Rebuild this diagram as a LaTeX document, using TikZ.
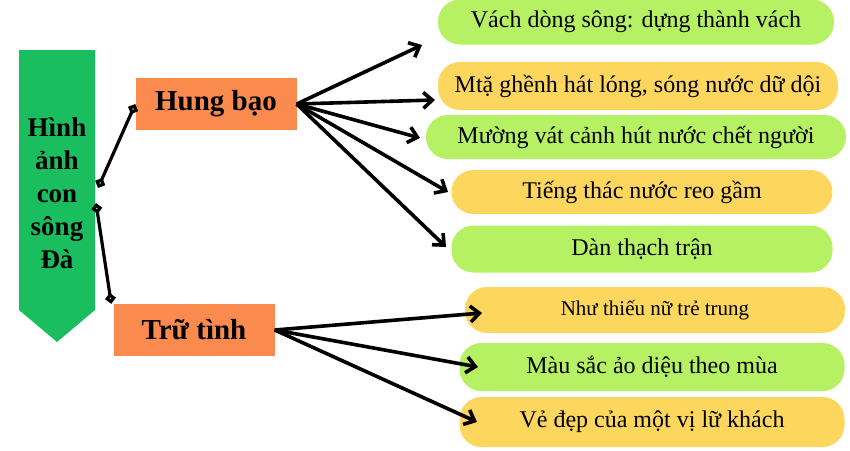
\documentclass[tikz,border=0pt]{standalone}
\usepackage{fontspec}
\setmainfont{Liberation Serif}
\usetikzlibrary{arrows.meta,positioning}
\definecolor{leafgreen}{HTML}{B5F163}
\definecolor{sunyellow}{HTML}{FDD65E}
\definecolor{headorange}{HTML}{FB8A4E}
\definecolor{rivergreen}{HTML}{1BBE5E}
\begin{document}
\begin{tikzpicture}[x=1pt, y=-1pt,
    item/.style={rectangle, rounded corners=22pt, inner sep=0pt, font=\fontsize{24}{26}\selectfont},
    greenitem/.style={item, fill=leafgreen},
    yellowitem/.style={item, fill=sunyellow},
    head/.style={rectangle, fill=headorange, minimum width=161pt, minimum height=52pt, font=\fontsize{29}{30}\selectfont\bfseries},
    arrow/.style={-{Straight Barb[length=9pt,width=16pt]}, line width=3.6pt},
    link/.style={{Diamond[open,length=11pt,width=11pt]}-{Diamond[open,length=11pt,width=11pt]}, line width=3.2pt}
]
\useasboundingbox (0,0) rectangle (850,450);

% River banner
\fill[rivergreen] (19,50) -- (95,50) -- (95,310) -- (57,342) -- (19,310) -- cycle;
\node[font=\fontsize{27}{33}\selectfont\bfseries, align=center] (river) at (57,193) {Hình\\ảnh\\con\\sông\\Đà};

% Two aspects
\node[head] (wild) at (216,104) {Hung bạo};
\node[head] (lyric) at (194,330) {Trữ tình};

% Items
\node[greenitem, minimum width=396pt, minimum height=45pt] (i1) at (636,22) {Vách dòng sông: dựng thành vách};
\node[yellowitem, minimum width=400pt, minimum height=48pt] (i2) at (638,86) {Mtặ ghềnh hát lóng, sóng nước dữ dội};
\node[greenitem, minimum width=420pt, minimum height=44pt] (i3) at (636,137) {Mường vát cảnh hút nước chết người};
\node[yellowitem, minimum width=381pt, minimum height=44pt] (i4) at (642,192) {Tiếng thác nước reo gầm};
\node[greenitem, minimum width=381pt, minimum height=47pt] (i5) at (642,249) {Dàn thạch trận};
\node[yellowitem, minimum width=380pt, minimum height=46pt, font=\fontsize{21}{22}\selectfont] (i6) at (655,310) {Như thiếu nữ trẻ trung};
\node[greenitem, minimum width=385pt, minimum height=48pt] (i7) at (652,367) {Màu sắc ảo diệu theo mùa};
\node[yellowitem, minimum width=385pt, minimum height=50pt] (i8) at (652,422) {Vẻ đẹp của một vị lữ khách};

% Ends of the arrows
\coordinate (e1) at (422,45);
\coordinate (e2) at (435,100);
\coordinate (e3) at (420,138);
\coordinate (e4) at (448,192);
\coordinate (e5) at (446,247);
\coordinate (e6) at (482,313);
\coordinate (e7) at (478,367);
\coordinate (e8) at (477,422);
\foreach \k in {1,...,5}
  \draw[arrow] (wild.east) -- (e\k);
\foreach \k in {6,7,8}
  \draw[arrow] (lyric.east) -- (e\k);

% Links to the banner
\coordinate (r1) at (98,188);
\coordinate (r2) at (96,203);
\draw[link] (r1) -- (wild.west);
\draw[link] (r2) -- ([xshift=-2pt]lyric.north west);
\end{tikzpicture}
\end{document}
